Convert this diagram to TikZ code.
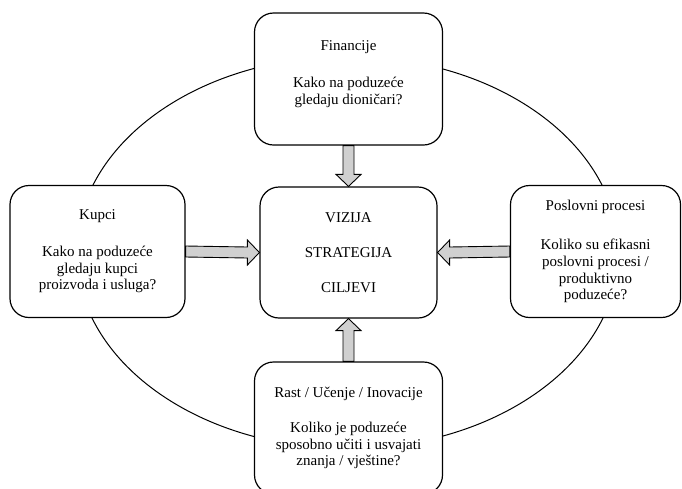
\documentclass[tikz,border=0pt]{standalone}
\usepackage{fontspec}
\setmainfont{Liberation Serif}
\usetikzlibrary{calc}
\definecolor{arrowgray}{HTML}{D0D0D0}
\begin{document}
\begin{tikzpicture}[x=1pt,y=1pt,
  box/.style={draw, line width=1.2pt, fill=white, rounded corners=19pt, align=center,
    font=\fontsize{15}{16.7}\selectfont, inner sep=0pt},
  blockarrow/.style={draw, line width=0.9pt, fill=arrowgray, line join=miter}]
\useasboundingbox (0,0) rectangle (682,-488);
\begin{scope}
\clip (0,0) rectangle (682,-488);
\draw[line width=1pt] (347.5,-252.5) ellipse [x radius=271, y radius=196];
\node[box, minimum width=188pt, minimum height=132pt, text depth=13pt] (fin) at (348.5,-79) {Financije\\[20pt]Kako na poduzeće\\gledaju dioničari?};
\node[box, minimum width=177pt, minimum height=131pt] (ctr) at (348.5,-252.5) {VIZIJA\\[18pt]STRATEGIJA\\[18pt]CILJEVI};
\node[box, minimum width=175pt, minimum height=132pt] (kup) at (97.5,-251.5) {Kupci\\[20pt]Kako na poduzeće\\gledaju kupci\\proizvoda i usluga?};
\node[box, minimum width=170pt, minimum height=132pt] (pos) at (595.5,-251.5) {Poslovni procesi\\[22.5pt]Koliko su efikasni\\poslovni procesi /\\produktivno\\poduzeće?};
\node[box, minimum width=188pt, minimum height=132pt] (rast) at (348.5,-428) {Rast / Učenje / Inovacije\\[18.5pt]Koliko je poduzeće\\sposobno učiti i usvajati\\znanja / vještine?};
\end{scope}
% down arrow
\draw[blockarrow] ($(fin.south)+(-5.5,0)$) -- ($(ctr.north)+(-5.5,12)$) -- ($(ctr.north)+(-12.5,12)$) -- (ctr.north) -- ($(ctr.north)+(12.5,12)$) -- ($(ctr.north)+(5.5,12)$) -- ($(fin.south)+(5.5,0)$) -- cycle;
% up arrow
\draw[blockarrow] ($(rast.north)+(-5.5,0)$) -- ($(ctr.south)+(-5.5,-12)$) -- ($(ctr.south)+(-12.5,-12)$) -- (ctr.south) -- ($(ctr.south)+(12.5,-12)$) -- ($(ctr.south)+(5.5,-12)$) -- ($(rast.north)+(5.5,0)$) -- cycle;
% right arrow
\draw[blockarrow] ($(kup.east)+(0,5.5)$) -- ($(ctr.west)+(-12,5.5)$) -- ($(ctr.west)+(-12,12.5)$) -- (ctr.west) -- ($(ctr.west)+(-12,-12.5)$) -- ($(ctr.west)+(-12,-5.5)$) -- ($(kup.east)+(0,-5.5)$) -- cycle;
% left arrow
\draw[blockarrow] ($(pos.west)+(0,5.5)$) -- ($(ctr.east)+(12,5.5)$) -- ($(ctr.east)+(12,12.5)$) -- (ctr.east) -- ($(ctr.east)+(12,-12.5)$) -- ($(ctr.east)+(12,-5.5)$) -- ($(pos.west)+(0,-5.5)$) -- cycle;
\end{tikzpicture}
\end{document}
